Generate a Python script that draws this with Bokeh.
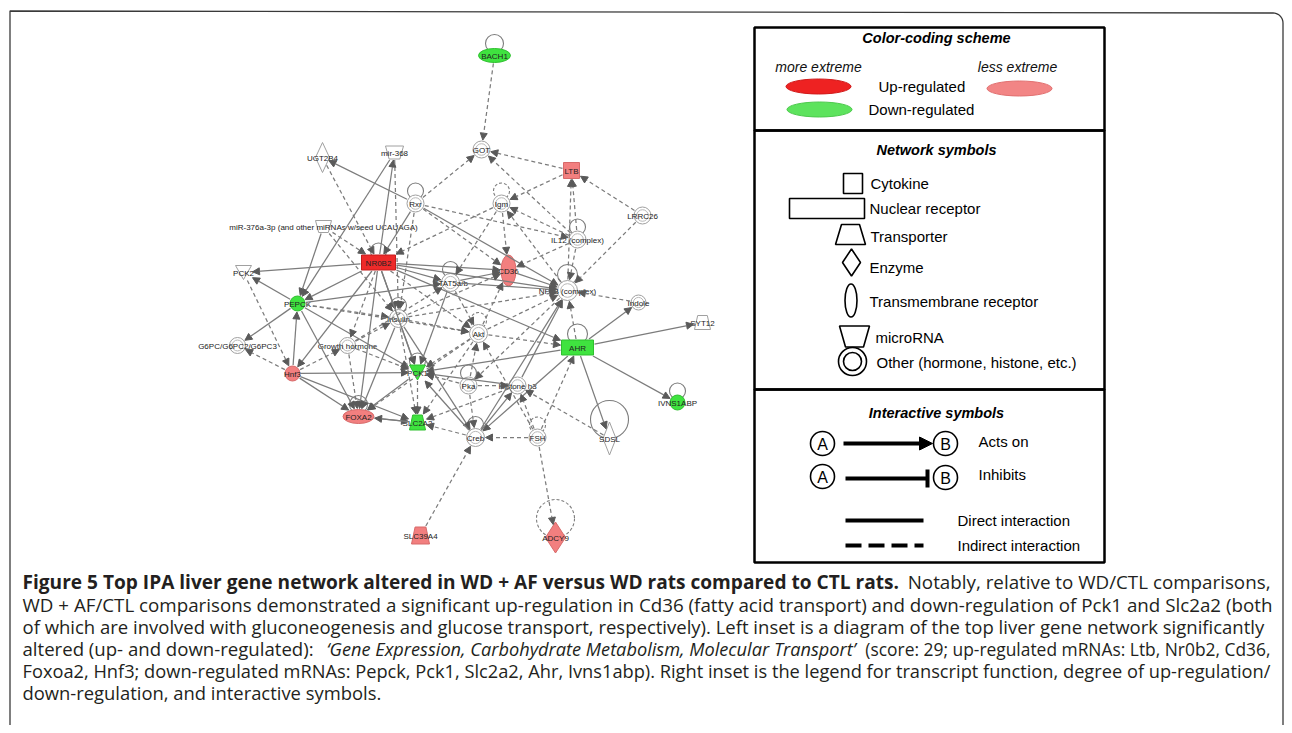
import math
from bokeh.plotting import figure
from bokeh.models import Range1d, ColumnDataSource, Arrow, NormalHead, TeeHead
from bokeh.core.properties import value
from bokeh.embed import file_html
from bokeh.resources import INLINE

# ---------------- data ----------------
node_id = ["BACH1", "GOT", "LTB", "UGT2B4", "mir368", "Rxr", "Igm", "LRRC26", "miR376",
           "IL12", "NR0B2", "CD36", "PCK2", "STAT5", "NFkB", "Indole", "PEPCK", "SYT12",
           "Insulin", "Akt", "G6PC", "GH", "AHR", "Hnf3", "PCK1", "Pka", "H3", "IVNS1ABP",
           "FOXA2", "SLC2A2", "Creb", "FSH", "SDSL", "SLC39A4", "ADCY9"]
node_label = ["BACH1", "GOT", "LTB", "UGT2B4", "mir-368", "Rxr", "Igm", "LRRC26",
              "miR-376a-3p (and other miRNAs w/seed UCAUAGA)", "IL12 (complex)", "NR0B2", "CD36",
              "PCK2", "STAT5a/b", "NFkB (complex)", "Indole", "PEPCK", "SYT12", "Insulin", "Akt",
              "G6PC/G6PC2/G6PC3", "Growth hormone", "AHR", "Hnf3", "PCK1", "Pka", "Histone h3",
              "IVNS1ABP", "FOXA2", "SLC2A2", "Creb", "FSH", "SDSL", "SLC39A4", "ADCY9"]
node_kind = ["ellipse", "other", "cytokine", "enzyme", "mirna", "other", "other", "other", "mirna",
             "other", "nuclear", "ellipse", "kinase", "other", "other", "other", "ellipse", "transporter",
             "other", "other", "other", "other", "nuclear", "ellipse", "kinase", "other", "other", "ellipse",
             "ellipse", "transporter", "other", "other", "enzyme", "transporter", "enzyme"]
node_reg = ["down", "none", "up", "none", "none", "none", "none", "none", "none",
            "none", "up_high", "up", "none", "none", "none", "none", "down", "none",
            "none", "none", "none", "none", "down", "up", "down", "none", "none", "down",
            "up", "down", "none", "none", "none", "up", "up"]

edge_source = ["BACH1", "LTB", "Rxr", "IL12", "LTB", "LRRC26", "IL12", "NFkB", "Rxr", "UGT2B4",
               "NR0B2", "mir368", "mir368", "Rxr", "Rxr", "Rxr", "Rxr", "Igm", "Igm", "NFkB",
               "IL12", "IL12", "IL12", "LRRC26", "Indole", "AHR", "AHR", "AHR", "AHR", "NR0B2",
               "NR0B2", "NR0B2", "NR0B2", "NR0B2", "NR0B2", "NR0B2", "NR0B2", "NR0B2", "NR0B2", "NR0B2",
               "NR0B2", "miR376", "miR376", "miR376", "PEPCK", "PEPCK", "PEPCK", "PEPCK", "PEPCK", "PEPCK",
               "PEPCK", "PCK2", "Hnf3", "Hnf3", "Hnf3", "Hnf3", "Hnf3", "Hnf3", "GH", "GH",
               "GH", "GH", "Insulin", "Insulin", "Insulin", "Insulin", "Insulin", "Insulin", "Insulin", "STAT5",
               "STAT5", "STAT5", "STAT5", "CD36", "Akt", "Akt", "Akt", "Akt", "Akt", "Akt",
               "AHR", "AHR", "AHR", "FSH", "FSH", "FSH", "FSH", "FSH", "SDSL", "SLC39A4",
               "Creb", "Creb", "Creb", "Creb", "H3", "H3", "H3", "Pka", "Pka", "Pka",
               "Pka", "PCK1", "FOXA2", "SLC2A2", "PCK1", "NFkB", "Rxr", "Igm"]
edge_target = ["GOT", "GOT", "GOT", "GOT", "Igm", "LTB", "LTB", "LTB", "UGT2B4", "NR0B2",
               "mir368", "PEPCK", "Insulin", "NR0B2", "NFkB", "CD36", "IL12", "CD36", "STAT5", "Igm",
               "Igm", "CD36", "NFkB", "NFkB", "NFkB", "Indole", "SYT12", "SDSL", "IVNS1ABP", "AHR",
               "PCK2", "PEPCK", "STAT5", "CD36", "NFkB", "Insulin", "PCK1", "FOXA2", "GH", "Akt",
               "Hnf3", "NR0B2", "PEPCK", "Insulin", "PCK2", "G6PC", "STAT5", "Insulin", "FOXA2", "PCK1",
               "Akt", "Hnf3", "G6PC", "PEPCK", "PCK1", "FOXA2", "SLC2A2", "GH", "FOXA2", "PCK1",
               "Insulin", "STAT5", "PCK1", "FOXA2", "SLC2A2", "CD36", "Akt", "NFkB", "Creb", "CD36",
               "NFkB", "PCK1", "Akt", "NFkB", "CD36", "NFkB", "PCK1", "FOXA2", "SLC2A2", "AHR",
               "PCK1", "NFkB", "Creb", "AHR", "Creb", "H3", "ADCY9", "Akt", "H3", "Creb",
               "PCK1", "SLC2A2", "H3", "NFkB", "PCK1", "SLC2A2", "NFkB", "PCK1", "Creb", "H3",
               "Akt", "SLC2A2", "SLC2A2", "FOXA2", "FOXA2", "Pka", "Insulin", "NR0B2"]
edge_kind = ["indirect", "indirect", "indirect", "indirect", "indirect", "indirect", "indirect", "indirect", "direct", "indirect",
             "direct", "direct", "indirect", "direct", "direct", "indirect", "indirect", "indirect", "indirect", "indirect",
             "indirect", "indirect", "indirect", "indirect", "indirect", "direct", "direct", "direct", "direct", "direct",
             "direct", "direct", "direct", "direct", "direct", "direct", "direct", "direct", "indirect", "indirect",
             "direct", "indirect", "direct", "indirect", "direct", "direct", "direct", "indirect", "direct", "direct",
             "indirect", "indirect", "indirect", "direct", "direct", "direct", "direct", "indirect", "indirect", "indirect",
             "indirect", "indirect", "direct", "direct", "indirect", "indirect", "indirect", "indirect", "direct", "direct",
             "direct", "direct", "indirect", "direct", "indirect", "indirect", "indirect", "indirect", "indirect", "indirect",
             "direct", "indirect", "direct", "indirect", "indirect", "indirect", "indirect", "indirect", "indirect", "indirect",
             "direct", "indirect", "direct", "direct", "direct", "indirect", "direct", "indirect", "indirect", "indirect",
             "indirect", "indirect", "direct", "direct", "direct", "indirect", "indirect", "indirect"]

loop_node = ["BACH1", "Rxr", "Igm", "IL12", "NR0B2", "STAT5", "NFkB", "Insulin", "Akt", "AHR",
             "FOXA2", "PCK1", "Pka", "Creb", "FSH", "SDSL", "ADCY9", "IVNS1ABP"]
loop_kind = ["direct", "direct", "indirect", "direct", "direct", "direct", "direct", "direct", "indirect", "direct",
             "direct", "direct", "direct", "direct", "indirect", "direct", "indirect", "direct"]

legend_reg_labels = ["Up-regulated", "Down-regulated"]
legend_reg_levels = ["more extreme", "less extreme"]
symbol_labels = ["Cytokine", "Nuclear  receptor", "Transporter", "Enzyme",
                 "Transmembrane  receptor", "microRNA", "Other  (hormone,  histone,  etc.)"]
interaction_labels = ["Acts on", "Inhibits", "Direct interaction", "Indirect interaction"]

caption_bold = "Figure 5 Top IPA liver gene network altered in WD + AF versus WD rats compared to CTL rats."
caption_lines = [
    "Notably, relative to WD/CTL comparisons,",
    "WD + AF/CTL comparisons demonstrated a significant up-regulation in Cd36 (fatty acid transport) and down-regulation of Pck1 and Slc2a2 (both",
    "of which are involved with gluconeogenesis and glucose transport, respectively). Left inset is a diagram of the top liver gene network significantly",
    "altered (up- and down-regulated): ",
    "Foxoa2, Hnf3; down-regulated mRNAs: Pepck, Pck1, Slc2a2, Ahr, Ivns1abp). Right inset is the legend for transcript function, degree of up-regulation/",
    "down-regulation, and interactive symbols.",
]
caption_italic = "\u2018Gene Expression, Carbohydrate Metabolism, Molecular Transport\u2019"
caption_after_italic = "(score: 29; up-regulated mRNAs: Ltb, Nr0b2, Cd36,"

# ---------------- layout (network drawing positions) ----------------
layout = {
    "BACH1": (494, 55, 32, 14), "GOT": (481, 149, 17, 17), "LTB": (571, 170, 16, 16),
    "UGT2B4": (322, 157, 14, 30), "mir368": (394, 152, 18, 13), "Rxr": (415, 203, 17, 17),
    "Igm": (501, 203, 17, 17), "LRRC26": (642, 215, 17, 17), "miR376": (323, 226, 16, 12),
    "IL12": (577, 239, 17, 17), "NR0B2": (378, 262, 34, 15), "CD36": (508, 270, 15, 31),
    "PCK2": (243, 272, 16, 14), "STAT5": (450, 282, 18, 18), "NFkB": (567, 290, 20, 20),
    "Indole": (638, 302, 15, 15), "PEPCK": (297, 303, 15, 15), "SYT12": (702, 322, 16, 14),
    "Insulin": (398, 318, 18, 18), "Akt": (478, 333, 18, 18), "G6PC": (237, 345, 16, 16),
    "GH": (347, 345, 16, 16), "AHR": (577, 347, 32, 15), "Hnf3": (292, 373, 15, 15),
    "PCK1": (417, 372, 16, 15), "Pka": (468, 385, 17, 17), "H3": (517, 385, 17, 17),
    "IVNS1ABP": (677, 402, 15, 15), "FOXA2": (358, 416, 31, 14), "SLC2A2": (417, 422, 16, 15),
    "Creb": (475, 437, 18, 18), "FSH": (537, 437, 17, 17), "SDSL": (609, 438, 13, 33),
    "SLC39A4": (420, 535, 18, 17), "ADCY9": (555, 537, 20, 31),
}
loop_radius = {"SDSL": 19, "ADCY9": 19, "NFkB": 10, "AHR": 10, "FOXA2": 9, "BACH1": 9}
loop_center_shift = {"SDSL": 19, "ADCY9": 19}

FILL = {"none": "#ffffff", "up_high": "#ee2a2a", "up": "#f27f7f", "down": "#3fe33f"}
EDGE = {"none": "#a0a0a0", "up_high": "#c41c1c", "up": "#d76a6a", "down": "#2fbf2f"}
GRAY = "#7c7c7c"

W, H = 1284, 725
p = figure(width=W, height=H, x_range=Range1d(0, W), y_range=Range1d(H, 0),
           output_backend="svg", toolbar_location=None,
           x_axis_location=None, y_axis_location=None, min_border=0,
           outline_line_color=None, background_fill_color="white", border_fill_color="white")
p.grid.visible = False

# ---- outer frame of the figure panel (square top-left, rounded top-right) ----
FR = "#3a3a3a"
cx, cy, cr = 1272.5, 22.5, 10
fx = [9.5, 9.5] + [cx + cr * math.sin(math.radians(a)) for a in range(0, 91, 10)] + [cx + cr, cx + cr]
fy = [725, 10.5] + [cy - cr * math.cos(math.radians(a)) for a in range(0, 91, 10)] + [cy, 725]
p.line(x=fx, y=fy, line_color=FR, line_width=1.3)

# ---- edges ----
def boundary(nid, dx, dy):
    x, y, w, h = layout[nid]
    kind = node_kind[node_id.index(nid)]
    a, b = w / 2 + 1, h / 2 + 1
    L = math.hypot(dx, dy)
    ux, uy = dx / L, dy / L
    if kind in ("cytokine", "nuclear", "transporter", "mirna", "kinase"):
        t = min(a / max(abs(ux), 1e-6), b / max(abs(uy), 1e-6))
    elif kind == "enzyme":
        t = 1.0 / (abs(ux) / a + abs(uy) / b)
    else:
        t = 1.0 / math.sqrt((ux / a) ** 2 + (uy / b) ** 2)
    return t

for kind, dash in (("direct", "solid"), ("indirect", "4 3")):
    x0s, y0s, x1s, y1s = [], [], [], []
    for s, t, k in zip(edge_source, edge_target, edge_kind):
        if k != kind:
            continue
        sx, sy = layout[s][:2]
        tx, ty = layout[t][:2]
        dx, dy = tx - sx, ty - sy
        L = math.hypot(dx, dy)
        ts = boundary(s, dx, dy)
        tt = boundary(t, -dx, -dy)
        x0s.append(sx + dx / L * ts); y0s.append(sy + dy / L * ts)
        x1s.append(tx - dx / L * tt); y1s.append(ty - dy / L * tt)
    src = ColumnDataSource(dict(x0=x0s, y0=y0s, x1=x1s, y1=y1s))
    p.add_layout(Arrow(end=NormalHead(size=7, fill_color="#5a5a5a", line_color="#5a5a5a", line_width=1),
                       x_start="x0", y_start="y0", x_end="x1", y_end="y1", source=src,
                       line_color=GRAY, line_width=1.25, line_dash=dash))

# ---- self loops ----
for kind, dash in (("direct", "solid"), ("indirect", "3 2")):
    lx, ly, lr = [], [], []
    for n, k in zip(loop_node, loop_kind):
        if k != kind:
            continue
        x, y, w, h = layout[n]
        r = loop_radius.get(n, 8)
        shift = loop_center_shift.get(n, h / 2 + r - 4)
        lx.append(x); ly.append(y - shift); lr.append(r)
    p.circle(x=lx, y=ly, radius=lr, fill_color=None, line_color=GRAY, line_width=1.1, line_dash=dash)

# ---- nodes ----
def poly(kind, x, y, w, h):
    a, b = w / 2, h / 2
    if kind == "enzyme":
        return [x, x + a, x, x - a], [y - b, y, y + b, y]
    if kind == "kinase":
        return [x - a, x + a, x], [y - b, y - b, y + b]
    if kind == "mirna":
        return [x - a, x + a, x + a * 0.6, x - a * 0.6], [y - b, y - b, y + b, y + b]
    if kind == "transporter":
        return [x - a * 0.6, x + a * 0.6, x + a, x - a], [y - b, y - b, y + b, y + b]
    return [x - a, x + a, x + a, x - a], [y - b, y - b, y + b, y + b]

px, py, pf, pl = [], [], [], []
ex, ey, ew, eh, ef, el = [], [], [], [], [], []
ox, oy, ow = [], [], []
for nid, kind, reg in zip(node_id, node_kind, node_reg):
    x, y, w, h = layout[nid]
    if kind == "other":
        ox.append(x); oy.append(y); ow.append(w)
    elif kind == "ellipse":
        ex.append(x); ey.append(y); ew.append(w); eh.append(h); ef.append(FILL[reg]); el.append(EDGE[reg])
    else:
        xs, ys = poly(kind, x, y, w, h)
        px.append(xs); py.append(ys); pf.append(FILL[reg]); pl.append(EDGE[reg])

p.ellipse(x=ox, y=oy, width=ow, height=ow, fill_color="white", line_color="#a0a0a0", line_width=1)
p.ellipse(x=ox, y=oy, width=[v * 0.68 for v in ow], height=[v * 0.68 for v in ow],
          fill_color=None, line_color="#b8b8b8", line_width=1)
p.patches(xs=px, ys=py, fill_color=pf, line_color=pl, line_width=1)
p.ellipse(x=ex, y=ey, width=ew, height=eh, fill_color=ef, line_color=el, line_width=1)

lab_x = [layout[n][0] for n in node_id]
lab_y = [layout[n][1] + 0.5 for n in node_id]
p.text(x=lab_x, y=lab_y, text=node_label, text_align="center", text_baseline="middle",
       text_font=value("Liberation Sans"), text_font_size="8px", text_color="#222222")

# ---------------- legend panel ----------------
LF = value("Liberation Sans")
p.quad(left=[754, 754, 754], right=[1104, 1104, 1104], top=[27, 130, 389], bottom=[130, 389, 562],
       fill_color=None, line_color="black", line_width=2.5)

p.text(x=[938, 938, 938], y=[37, 149, 412],
       text=["Color-coding  scheme", "Network  symbols", "Interactive  symbols"],
       text_align="center", text_baseline="middle", text_font=LF, text_font_style="bold italic",
       text_font_size="14.5px", text_color="black")

p.text(x=[818, 1017], y=[66, 66], text=legend_reg_levels, text_align="center", text_baseline="middle",
       text_font=LF, text_font_style="italic", text_font_size="14px", text_color="#111111")
p.ellipse(x=[818, 1019, 819], y=[86, 88, 109], width=[65, 65, 65], height=[15, 15, 15],
          fill_color=["#ee2222", "#f28585", "#5de35d"], line_color=["#d01a1a", "#e07070", "#4cc94c"], line_width=1)
p.text(x=[878, 868], y=[86, 109], text=legend_reg_labels, text_align="left", text_baseline="middle",
       text_font=LF, text_font_size="15px", text_color="black")

sym_x = [870, 869, 870, 869, 869, 875, 876]
sym_y = [183, 208, 236, 267, 301, 337, 362]
p.text(x=sym_x, y=sym_y, text=symbol_labels, text_align="left", text_baseline="middle",
       text_font=LF, text_font_size="15px", text_color="black")
sx_, sy_ = [], []
for kind, (x, y, w, h) in zip(["cytokine", "nuclear", "transporter", "enzyme", "mirna"],
                              [(852.5, 183, 19, 20), (826.5, 208, 75, 20), (850, 234, 30, 20),
                               (851, 262, 18, 27), (854, 336, 30, 21)]):
    xs, ys = poly(kind, x, y, w, h)
    sx_.append(xs); sy_.append(ys)
p.patches(xs=sx_, ys=sy_, fill_color="white", line_color="black", line_width=1.6)
p.ellipse(x=[850.5], y=[300], width=[12], height=[33], fill_color="white", line_color="black", line_width=1.6)
p.ellipse(x=[852, 852], y=[361, 361], width=[28, 18], height=[28, 18], fill_color=None,
          line_color="black", line_width=1.6)

p.ellipse(x=[822, 945, 822, 945], y=[443, 443, 476, 477], width=24, height=24,
          fill_color="white", line_color="black", line_width=1.6)
p.text(x=[822, 945, 822, 945], y=[443.5, 443.5, 476.5, 477.5], text=["A", "B", "A", "B"],
       text_align="center", text_baseline="middle", text_font=LF, text_font_size="16px", text_color="black")
p.add_layout(Arrow(end=NormalHead(size=13, fill_color="black", line_color="black"),
                   x_start=843, y_start=443, x_end=932, y_end=443, line_width=4, line_color="black"))
p.add_layout(Arrow(end=TeeHead(size=18, line_width=4, line_color="black"),
                   x_start=845, y_start=478, x_end=927, y_end=478, line_width=4, line_color="black"))
p.segment(x0=[845], y0=[520], x1=[923], y1=[520], line_width=4, line_color="black")
p.segment(x0=[845], y0=[545], x1=[923], y1=[545], line_width=4, line_color="black", line_dash="16 7")
p.text(x=[978, 978, 957, 957], y=[441, 474, 520, 545], text=interaction_labels, text_align="left",
       text_baseline="middle", text_font=LF, text_font_size="15px", text_color="black")

# ---------------- caption ----------------
CF = value("Open Sans")
CC = "#231f20"
cap_y = [581, 604, 626, 648, 670, 692]
line_size = ["18.75px", "18.5px", None, "18.24px", "18.4px"]
p.text(x=[22], y=[cap_y[0]], text=[caption_bold], text_align="left", text_baseline="middle",
       text_font=CF, text_font_style="bold", text_font_size="19.1px", text_color=CC)
p.text(x=[1270], y=[cap_y[0]], text=[caption_lines[0]], text_align="right", text_baseline="middle",
       text_font=CF, text_font_size="18.8px", text_color=CC)
for i in (1, 2, 4, 5):
    p.text(x=[22], y=[cap_y[i]], text=[caption_lines[i]], text_align="left", text_baseline="middle",
           text_font=CF, text_font_size=line_size[i - 1], text_color=CC)
p.text(x=[22], y=[cap_y[3]], text=[caption_lines[3]], text_align="left", text_baseline="middle",
       text_font=CF, text_font_size="18.6px", text_color=CC)
p.text(x=[326], y=[cap_y[3]], text=[caption_italic], text_align="left", text_baseline="middle",
       text_font=CF, text_font_style="italic", text_font_size="18.2px", text_color=CC)
p.text(x=[1270], y=[cap_y[3]], text=[caption_after_italic], text_align="right", text_baseline="middle",
       text_font=CF, text_font_size="17.4px", text_color=CC)

open("out.html", "w").write(file_html(p, INLINE))
